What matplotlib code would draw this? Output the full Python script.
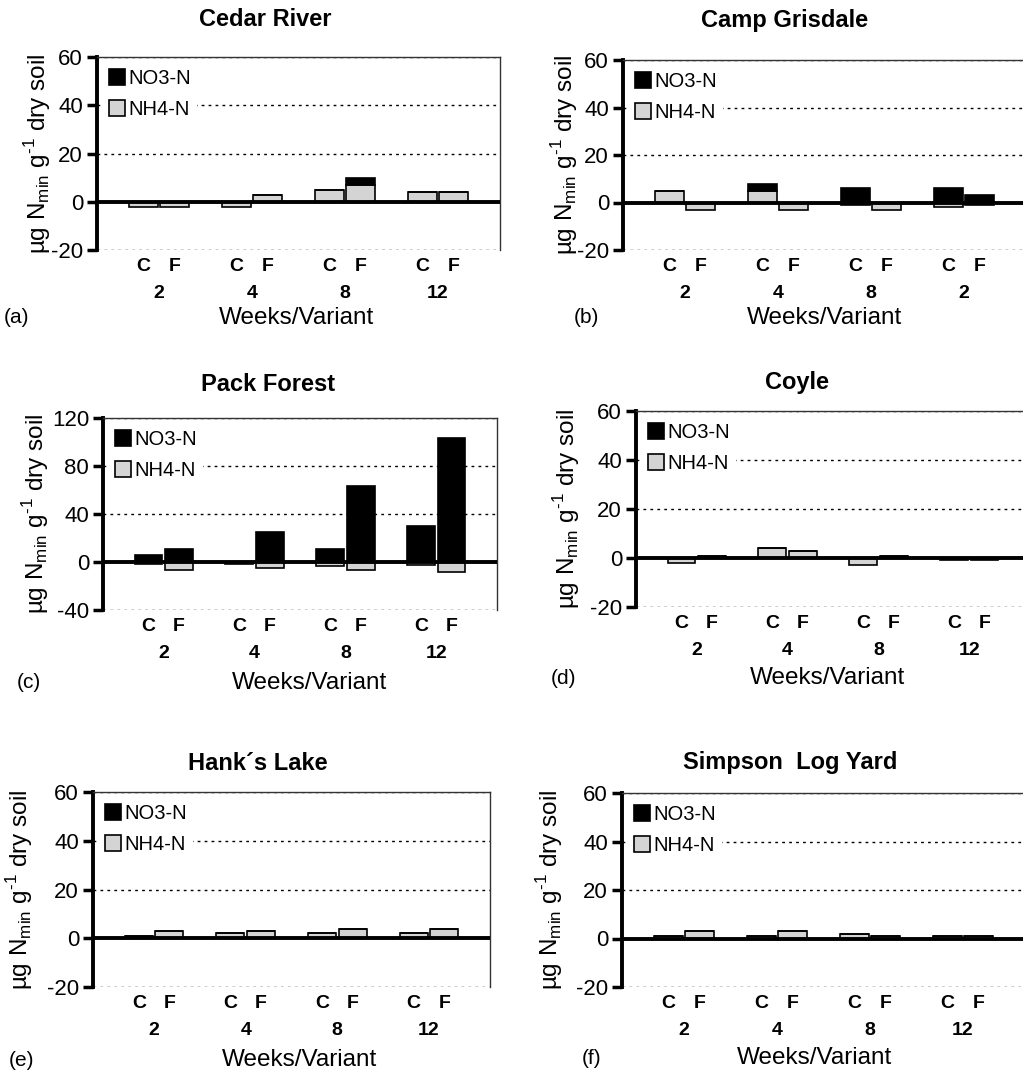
import numpy as np
import matplotlib
matplotlib.use("Agg")
import matplotlib.pyplot as plt

plt.rcParams['font.family'] = ['Liberation Sans', 'DejaVu Sans']
plt.rcParams['axes.unicode_minus'] = False
plt.rcParams['mathtext.fontset'] = 'custom'
plt.rcParams['mathtext.rm'] = 'Liberation Sans'

# categories on the x axis (blank slots separate the weeks)
slots = ['', 'C', 'F', '', 'C', 'F', '', 'C', 'F', '', 'C', 'F', '']
weeks = ['2', '4', '8', '12']
weeks_b = ['2', '4', '8', '2']

# values per bar: week 2 C, 2 F, 4 C, 4 F, 8 C, 8 F, 12 C, 12 F
cedar_nh4 = [-2, -2, -2, 3, 5, 7, 4, 4]
cedar_no3 = [0, 0, 0, 0, 0, 3, 0, 0]
camp_nh4 = [5, -3, 5, -3, -1, -3, -2, -1]
camp_no3 = [0, 0, 3, 0, 6, 0, 6, 3]
pack_nh4 = [-1.5, -7, -1.5, -5, -3.5, -7, -2.5, -8]
pack_no3 = [5.5, 11, 0, 25, 11, 63, 30, 103]
coyle_nh4 = [-2, 1, 4, 3, -3, 1, -1, -1]
coyle_no3 = [0, 0, 0, 0, 0, 0, 0, 0]
hanks_nh4 = [1, 3, 2, 3, 2, 4, 2, 4]
hanks_no3 = [0, 0, 0, 0, 0, 0, 0, 0]
simpson_nh4 = [1, 3, 1, 3, 2, 1, 1, 1]
simpson_no3 = [0, 0, 0, 0, 0, 0, 0, 0]

W, H = 1023, 1072
fig = plt.figure(figsize=(W / 100, H / 100), dpi=100)

GRAY = '#d4d4d4'


def px(x, y):
    return x / W, 1 - y / H


def panel(box, title, title_xy, tag, tag_xy, wv_xy, ylab_x,
          nh4, no3, wk, yticks):
    L, R, T, B = box
    ax = fig.add_axes([L / W, 1 - B / H, (R - L) / W, (B - T) / H])
    pos = np.array([i for i, s in enumerate(slots) if s != ''])
    labs = [s for s in slots if s != '']
    nh4 = np.array(nh4, dtype=float)
    no3 = np.array(no3, dtype=float)
    bottom = np.where(nh4 > 0, nh4, 0)
    ax.bar(pos, nh4, width=0.92, color=GRAY, edgecolor='black', lw=1.2,
           label='NH4-N', zorder=3)
    ax.bar(pos, no3, width=0.92, bottom=bottom, color='black',
           edgecolor='black', lw=1.2, label='NO3-N', zorder=3)
    ax.set_xlim(-0.5, len(slots) - 0.5)
    ax.set_ylim(yticks[0], yticks[-1])
    ax.set_yticks(yticks)
    ax.yaxis.grid(True, linestyle=(0, (2, 3)), color='black', lw=1)
    ax.set_axisbelow(True)
    ax.axhline(0, color='black', lw=2.8, zorder=4)
    ax.spines['bottom'].set_visible(False)
    ax.spines['left'].set_linewidth(2.8)
    ax.spines['top'].set_linewidth(1)
    ax.spines['right'].set_linewidth(1)
    ax.spines['top'].set_color('#333333')
    ax.spines['right'].set_color('#333333')
    ax.tick_params(axis='y', direction='out', length=7, width=2.5,
                   labelsize=16, pad=3)
    ax.set_xticks(pos)
    ax.set_xticklabels(labs, fontweight='bold', fontsize=14)
    ax.tick_params(axis='x', length=0, pad=6)
    for i, w in enumerate(wk):
        ax.annotate(w, xy=(pos[2 * i] + 0.5, 0), xycoords=('data', 'axes fraction'),
                    xytext=(0, -31), textcoords='offset points',
                    ha='center', va='center', fontsize=14, fontweight='bold')
    h, l = ax.get_legend_handles_labels()
    leg = ax.legend(h[::-1], l[::-1], loc='upper left', fontsize=14.5,
                    handlelength=0.8, handleheight=0.8, handletextpad=0.15,
                    labelspacing=0.6, borderaxespad=0.3, frameon=True,
                    fancybox=False, borderpad=0.3)
    leg.get_frame().set_edgecolor('none')
    leg.get_frame().set_facecolor('white')
    leg.get_frame().set_alpha(1)
    fig.text(*px(*title_xy), title, ha='center', va='center',
             fontsize=17, fontweight='bold')
    fig.text(*px(*tag_xy), tag, ha='left', va='center', fontsize=15)
    fig.text(*px(*wv_xy), 'Weeks/Variant', ha='center', va='center', fontsize=17.5)
    fig.text(*px(ylab_x, (T + B) / 2),
             'µg N$_{\\mathrm{min}}$ g$^{\\text{-1}}$ dry soil',
             rotation=90, ha='center', va='center', fontsize=17.5)
    return ax


panel((97, 500, 57, 250), 'Cedar River', (265, 20), '(a)', (4, 318),
      (297, 318), 38, cedar_nh4, cedar_no3, weeks, [-20, 0, 20, 40, 60])
panel((623, 1026, 60, 250), 'Camp Grisdale', (785, 20), '(b)', (574, 318),
      (825, 318), 565, camp_nh4, camp_no3, weeks_b, [-20, 0, 20, 40, 60])
panel((103, 497, 418, 610), 'Pack Forest', (268, 385), '(c)', (17, 683),
      (310, 683), 36, pack_nh4, pack_no3, weeks, [-40, 0, 40, 80, 120])
panel((636, 1030, 411, 607), 'Coyle', (797, 382), '(d)', (551, 678),
      (828, 678), 567, coyle_nh4, coyle_no3, weeks, [-20, 0, 20, 40, 60])
panel((93, 490, 792, 987), 'Hank\u00b4s Lake', (258, 763), '(e)', (9, 1060),
      (300, 1060), 20, hanks_nh4, hanks_no3, weeks, [-20, 0, 20, 40, 60])
panel((622, 1025, 793, 987), 'Simpson  Log Yard', (790, 763), '(f)', (582, 1058),
      (815, 1058), 550, simpson_nh4, simpson_no3, weeks, [-20, 0, 20, 40, 60])

fig.savefig('out.png', dpi=100)
